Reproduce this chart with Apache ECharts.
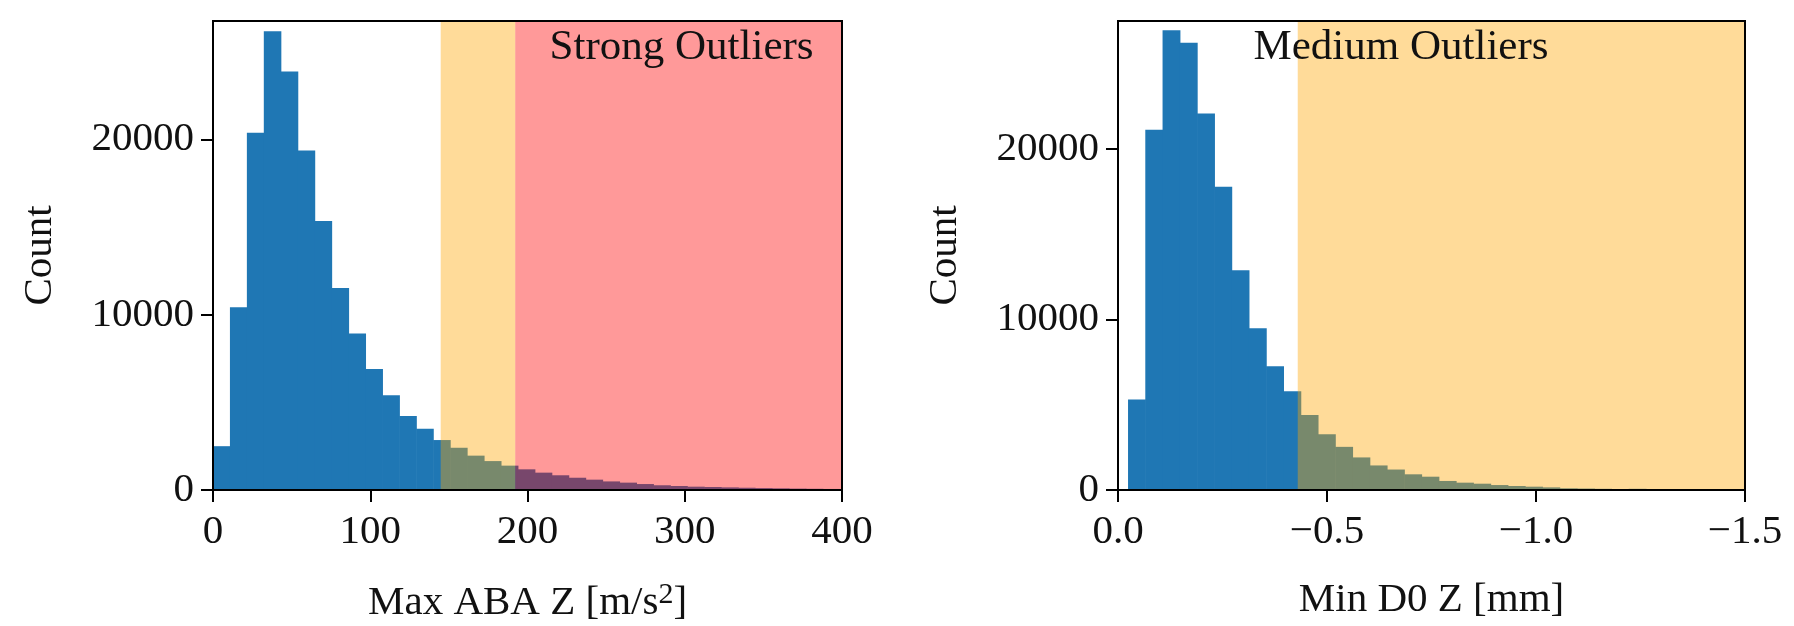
<!DOCTYPE html>
<html>
<head>
<meta charset="utf-8">
<script src="https://cdn.jsdelivr.net/npm/echarts@6/dist/echarts.min.js"></script>
<style>
  html, body { margin: 0; padding: 0; background: #fff; }
  #chart { width: 1794px; height: 626px; }
</style>
</head>
<body>
<div id="chart"></div>
<script>
// histogram of Max ABA Z, fixed-width bins starting at 0
const abaBinStart = 0;
const abaBinWidth = 10.77;
const abaCounts = [2500, 10430, 20380, 26170, 23880, 19370, 15350, 11530, 8930, 6900,
  5410, 4220, 3500, 2850, 2410, 1960, 1650, 1390, 1180, 990,
  840, 700, 590, 490, 420, 340, 270, 230, 190, 170,
  150, 130, 110, 95, 80, 70, 60, 50];
const abaMediumRange = [144.8, 192.2];
const abaStrongRange = [192.2, 400];
const abaTicks = [0, 100, 200, 300, 400];
const abaCountTicks = [0, 10000, 20000];

// histogram of Min D0 Z, bins run toward negative values
const d0BinStart = -0.024;
const d0BinWidth = -0.0413;
const d0Counts = [5300, 21120, 26960, 26220, 22080, 17780, 12880, 9490, 7255, 5790,
  4400, 3270, 2530, 1910, 1440, 1200, 920, 780, 530, 430,
  370, 290, 235, 195, 155, 100, 85, 70, 60, 70,
  55, 45, 40, 35, 30, 25];
const d0MediumRange = [-0.430, -1.5];
const d0Ticks = [0, -0.5, -1.0, -1.5];
const d0CountTicks = [0, 10000, 20000];

const FONT = "'Liberation Serif', 'DejaVu Serif', serif";
const FS = 41;

function toBins(start, width, counts) {
  return counts.map((c, i) => [start + i * width, start + (i + 1) * width, c]);
}

function renderBin(params, api) {
  const a = api.coord([api.value(0), api.value(2)]);
  const b = api.coord([api.value(1), 0]);
  const x = Math.min(a[0], b[0]);
  return {
    type: 'rect',
    shape: { x: x, y: a[1], width: Math.abs(b[0] - a[0]) + 0.6, height: b[1] - a[1] },
    style: { fill: '#1f77b4' }
  };
}

function shadeSeries(gridIdx, range, color) {
  return {
    type: 'custom',
    xAxisIndex: gridIdx,
    yAxisIndex: gridIdx,
    clip: true,
    z: 3,
    data: [[range[0], range[1]]],
    encode: { x: [0, 1] },
    renderItem: function (params, api) {
      const cs = params.coordSys;
      const p0 = api.coord([api.value(0), 0]);
      const p1 = api.coord([api.value(1), 0]);
      return {
        type: 'rect',
        shape: { x: Math.min(p0[0], p1[0]), y: cs.y, width: Math.abs(p1[0] - p0[0]), height: cs.height },
        style: { fill: color }
      };
    }
  };
}

function xAxisBase(gridIdx) {
  return {
    gridIndex: gridIdx,
    type: 'value',
    z: 10,
    nameLocation: 'middle',
    nameGap: 90,
    nameTextStyle: {
      fontFamily: FONT, fontSize: FS, color: '#111',
      rich: { sup: { fontFamily: FONT, fontSize: 30, color: '#111', verticalAlign: 'top', lineHeight: 46 } }
    },
    axisLine: { show: true, onZero: false, lineStyle: { color: '#000', width: 2 } },
    axisTick: { show: true, inside: false, length: 12, lineStyle: { color: '#000', width: 2 } },
    axisLabel: { fontFamily: FONT, fontSize: FS, color: '#111', margin: 22 },
    splitLine: { show: false }
  };
}

function yAxisBase(gridIdx, max, ticks) {
  return {
    gridIndex: gridIdx,
    type: 'value',
    z: 10,
    min: 0,
    max: max,
    name: 'Count',
    nameLocation: 'middle',
    nameRotate: 90,
    nameGap: 152,
    nameTextStyle: { fontFamily: FONT, fontSize: FS, color: '#111' },
    axisLine: { show: true, lineStyle: { color: '#000', width: 2 } },
    axisTick: { show: true, inside: false, length: 12, customValues: ticks, lineStyle: { color: '#000', width: 2 } },
    axisLabel: { fontFamily: FONT, fontSize: FS, color: '#111', margin: 19, customValues: ticks,
      formatter: v => String(v) },
    splitLine: { show: false }
  };
}

const chart = echarts.init(document.getElementById('chart'), null, { renderer: 'canvas' });

const xLeft = Object.assign(xAxisBase(0), {
  min: 0, max: 400, interval: 100,
  name: 'Max ABA Z [m/s{sup|2}]'
});
xLeft.axisLabel.customValues = abaTicks;
xLeft.axisTick.customValues = abaTicks;

const xRight = Object.assign(xAxisBase(1), {
  min: -1.5, max: 0, interval: 0.5, inverse: true,
  name: 'Min D0 Z [mm]'
});
xRight.axisLabel.customValues = d0Ticks;
xRight.axisTick.customValues = d0Ticks;
xRight.axisLabel.formatter = v => (v === 0 ? '0.0' : '\u2212' + Math.abs(v).toFixed(1));

const option = {
  backgroundColor: '#fff',
  animation: false,
  grid: [
    { left: 213, top: 21, width: 629, height: 469, outerBoundsMode: 'none', containLabel: false,
      show: true, borderColor: '#000', borderWidth: 2, z: 10, backgroundColor: 'transparent' },
    { left: 1118, top: 21, width: 627, height: 469, outerBoundsMode: 'none', containLabel: false,
      show: true, borderColor: '#000', borderWidth: 2, z: 10, backgroundColor: 'transparent' }
  ],
  xAxis: [xLeft, xRight],
  yAxis: [yAxisBase(0, 26760, abaCountTicks), yAxisBase(1, 27500, d0CountTicks)],
  series: [
    {
      type: 'custom', xAxisIndex: 0, yAxisIndex: 0, clip: true, z: 2,
      data: toBins(abaBinStart, abaBinWidth, abaCounts),
      encode: { x: [0, 1], y: 2 },
      renderItem: renderBin
    },
    {
      type: 'custom', xAxisIndex: 1, yAxisIndex: 1, clip: true, z: 2,
      data: toBins(d0BinStart, d0BinWidth, d0Counts),
      encode: { x: [0, 1], y: 2 },
      renderItem: renderBin
    },
    shadeSeries(0, abaMediumRange, 'rgba(255,165,0,0.4)'),
    shadeSeries(0, abaStrongRange, 'rgba(255,0,0,0.4)'),
    shadeSeries(1, d0MediumRange, 'rgba(255,165,0,0.4)')
  ]
};
chart.setOption(option);

// outlier labels, placed in data coordinates
const notes = [
  { grid: 0, at: [298, 25240], text: 'Strong Outliers' },
  { grid: 1, at: [-0.677, 25920], text: 'Medium Outliers' }
];
chart.setOption({
  graphic: notes.map(n => {
    const p = chart.convertToPixel({ gridIndex: n.grid }, n.at);
    return {
      type: 'text', x: p[0], y: p[1], z: 20,
      style: { text: n.text, fontFamily: FONT, fontSize: FS + 2, fill: '#111', align: 'center', verticalAlign: 'middle' }
    };
  })
});
</script>
</body>
</html>
